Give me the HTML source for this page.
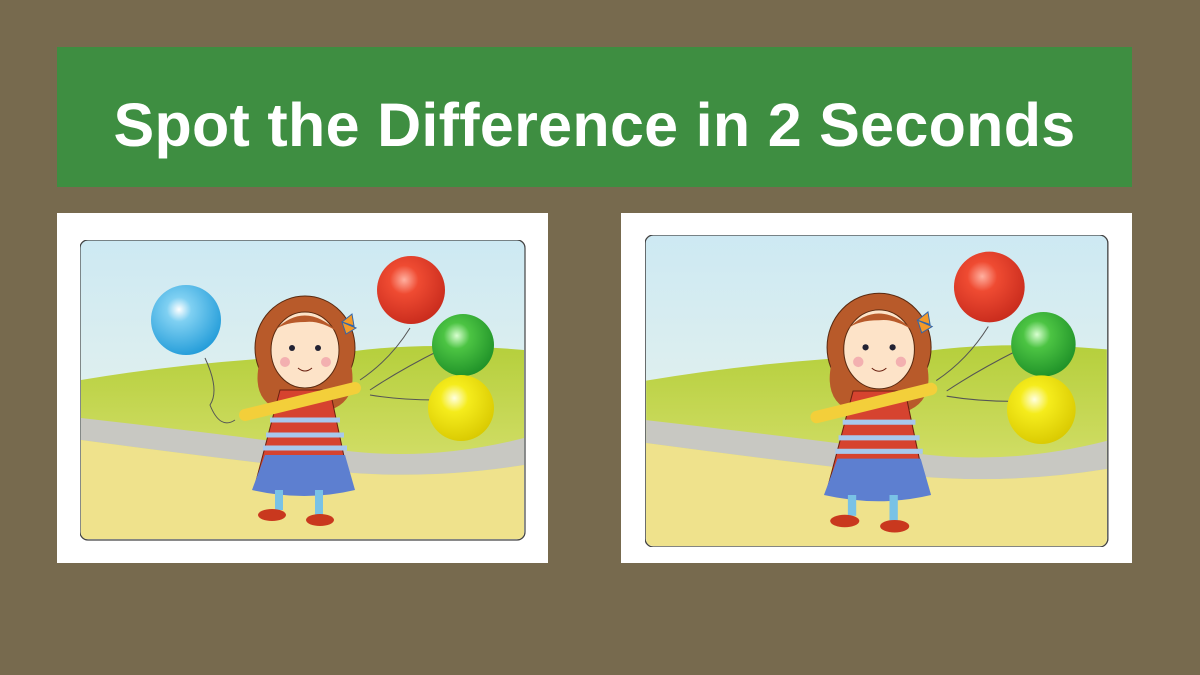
<!DOCTYPE html>
<html><head><meta charset="utf-8"><style>
html,body{margin:0;padding:0}
body{width:1200px;height:675px;background:#776a4e;position:relative;overflow:hidden;font-family:"Liberation Sans",sans-serif}
#banner{position:absolute;left:57px;top:47px;width:1075px;height:140px;background:#3e8e41;display:flex;align-items:center;justify-content:center}
#banner h1{margin:0;padding-top:16px;color:#fff;font-size:61px;font-weight:bold;letter-spacing:0.3px}
.panel{position:absolute;background:#fff}
svg{position:absolute}
</style></head><body>
<div id="banner"><h1>Spot the Difference in 2 Seconds</h1></div>
<div class="panel" style="left:57px;top:213px;width:491px;height:350px"></div>
<div class="panel" style="left:621px;top:213px;width:511px;height:350px"></div>
<svg width="0" height="0" style="position:absolute">
<defs>
<linearGradient id="sky" x1="0" y1="0" x2="0" y2="1"><stop offset="0" stop-color="#cde9f3"/><stop offset="1" stop-color="#f1f6ea"/></linearGradient>
<linearGradient id="hill" x1="0" y1="0" x2="0" y2="1"><stop offset="0" stop-color="#b5cf3c"/><stop offset="1" stop-color="#e3e680"/></linearGradient>
<radialGradient id="gb" cx="0.4" cy="0.35" r="0.7"><stop offset="0" stop-color="#fff"/><stop offset="0.25" stop-color="#7fd0f2"/><stop offset="1" stop-color="#1f9ad8"/></radialGradient>
<radialGradient id="gr" cx="0.4" cy="0.35" r="0.7"><stop offset="0" stop-color="#ffb0a0"/><stop offset="0.3" stop-color="#ef4b32"/><stop offset="1" stop-color="#c72a1c"/></radialGradient>
<radialGradient id="gg" cx="0.4" cy="0.35" r="0.7"><stop offset="0" stop-color="#d8ffd0"/><stop offset="0.3" stop-color="#4cc443"/><stop offset="1" stop-color="#1d8f27"/></radialGradient>
<radialGradient id="gy" cx="0.4" cy="0.35" r="0.7"><stop offset="0" stop-color="#ffffe0"/><stop offset="0.3" stop-color="#f5ec1c"/><stop offset="1" stop-color="#d8c800"/></radialGradient>
<g id="scene">
<rect x="0" y="0" width="445" height="300" rx="8" fill="url(#sky)" stroke="#555" stroke-width="1"/>
<path d="M1 140 Q120 120 250 115 Q330 100 444 110 L444 290 L1 290 Z" fill="url(#hill)"/>
<path d="M1 178 Q150 195 260 210 Q350 222 444 198 L444 225 Q350 240 260 232 Q150 220 1 200 Z" fill="#c8c8c2"/>
<path d="M1 200 Q150 220 260 232 Q350 240 444 225 L444 292 Q444 299 437 299 L8 299 Q1 299 1 292 Z" fill="#efe28c"/>
<rect x="0" y="0" width="445" height="300" rx="8" fill="none" stroke="#444" stroke-width="1.2"/>
<path d="M330 88 Q310 120 280 140" stroke="#555" fill="none" stroke-width="1"/>
<path d="M360 110 Q320 130 290 150" stroke="#555" fill="none" stroke-width="1"/>
<path d="M355 160 Q320 160 290 155" stroke="#555" fill="none" stroke-width="1"/>
<ellipse cx="225" cy="108" rx="50" ry="52" fill="#b85a2a" stroke="#5a2a10"/>
<path d="M180 120 Q170 160 200 170 L250 170 Q280 160 270 120 Z" fill="#b85a2a"/>
<path d="M200 150 L250 150 L270 245 Q225 260 175 245 Z" fill="#d6432f" stroke="#6a2010"/>
<path d="M185 215 L265 215 L275 250 Q225 262 172 250 Z" fill="#5d7fd0"/>
<path d="M190 180 L260 180 M186 195 L264 195 M183 208 L267 208" stroke="#a8c8ec" stroke-width="5"/>
<rect x="195" y="250" width="8" height="20" fill="#79c2e6"/><rect x="235" y="250" width="8" height="25" fill="#79c2e6"/>
<ellipse cx="192" cy="275" rx="14" ry="6" fill="#c9381e"/><ellipse cx="240" cy="280" rx="14" ry="6" fill="#c9381e"/>
<path d="M165 175 L275 148" stroke="#f3cf3a" stroke-width="12" stroke-linecap="round"/>
<ellipse cx="225" cy="110" rx="34" ry="38" fill="#fde3c8" stroke="#5a2a10"/>
<path d="M195 90 Q225 60 258 92 Q240 80 225 82 Q205 82 195 90Z" fill="#b85a2a"/>
<circle cx="212" cy="108" r="3" fill="#223"/><circle cx="238" cy="108" r="3" fill="#223"/>
<circle cx="205" cy="122" r="5" fill="#f3b0b0"/><circle cx="246" cy="122" r="5" fill="#f3b0b0"/>
<path d="M218 128 Q225 134 232 128" stroke="#6a2010" fill="none"/>
<path d="M262 82 l10 -8 l2 12 z M262 82 l14 6 l-10 6 z" fill="#f39a2a" stroke="#36a"/>
<circle cx="331" cy="50" r="34" fill="url(#gr)"/>
<circle cx="383" cy="105" r="31" fill="url(#gg)"/>
<circle cx="381" cy="168" r="33" fill="url(#gy)"/>
</g>
</defs></svg>
<svg style="left:80px;top:240px" width="446" height="301" viewBox="0 0 446 301">
<use href="#scene"/>
<path d="M125 118 Q140 150 130 165 Q140 190 155 180" stroke="#555" fill="none" stroke-width="1"/>
<circle cx="106" cy="80" r="35" fill="url(#gb)"/>
</svg>
<svg style="left:645px;top:235px" width="464" height="312" viewBox="0 0 446 300">
<use href="#scene"/>
</svg>
</body></html>
